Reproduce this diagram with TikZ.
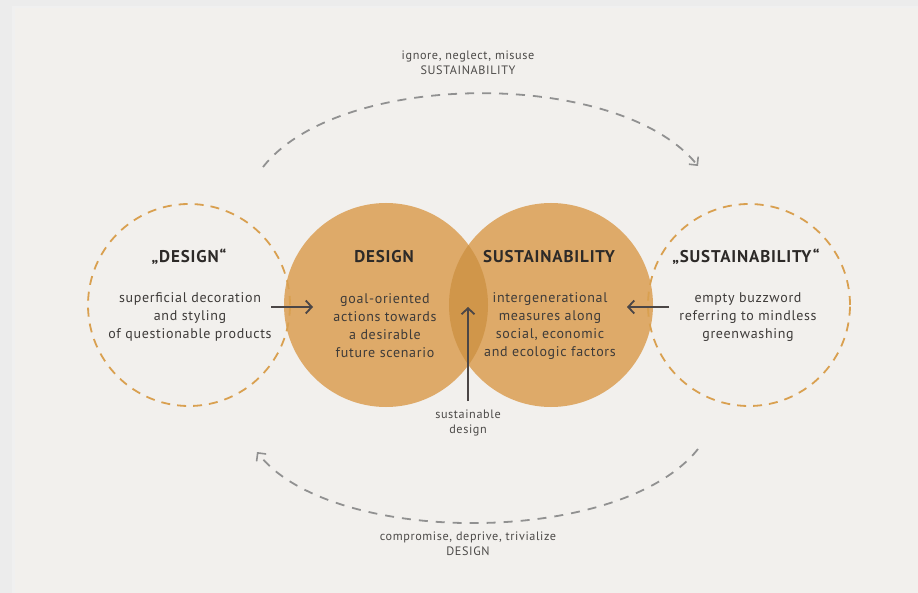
\documentclass[tikz,border=0pt]{standalone}
\usepackage{fontspec}
\setmainfont{PT Sans}
\newfontfamily\spaced[LetterSpace=5]{PT Sans}
\usetikzlibrary{arrows.meta}
\definecolor{outerbg}{RGB}{236,236,236}
\definecolor{paper}{RGB}{242,240,237}
\definecolor{circfill}{RGB}{222,170,105}
\definecolor{overlapfill}{RGB}{208,150,74}
\definecolor{dashorange}{RGB}{217,160,80}
\definecolor{arcgray}{RGB}{145,145,145}
\definecolor{darkline}{RGB}{75,70,70}
\definecolor{txt}{RGB}{45,42,40}
\tikzset{
  bigcirc/.style={circle, fill=circfill, minimum size=204pt, inner sep=0pt},
  falsecirc/.style={circle, draw=dashorange, line width=1.8pt, dash pattern=on 9pt off 7pt, minimum size=202pt, inner sep=0pt},
  titletext/.style={text=txt, font=\spaced\fontsize{17}{19}\selectfont\bfseries},
  bodytext/.style={text=txt!92, align=center, font=\spaced\fontsize{14}{18}\selectfont},
  smalltext/.style={text=txt!85, align=center, font=\spaced\fontsize{12.2}{14.5}\selectfont},
  grayarc/.style={draw=arcgray, line width=1.8pt, dash pattern=on 9pt off 8pt, -{Straight Barb[length=6pt,width=12pt,line width=1.6pt]}},
  darkarrow/.style={draw=darkline, line width=1.8pt, -{Straight Barb[length=6pt,width=13pt,line width=1.8pt]}}
}
\begin{document}
\begin{tikzpicture}[x=1pt,y=-1pt]
\useasboundingbox (0,0) rectangle (918,593);
\fill[outerbg] (0,0) rectangle (918,593);
\fill[black!6] (12,6) rectangle (918,593);
\fill[paper] (15,8) rectangle (918,593);

% main circles
\node[bigcirc] (design) at (386,305) {};
\node[bigcirc] (sust) at (551,305) {};
\begin{scope}
  \clip (386,305) circle (102pt);
  \fill[overlapfill] (551,305) circle (102pt);
\end{scope}

% dashed circles
\node[falsecirc] (fdesign) at (189,305) {};
\node[falsecirc] (fsust) at (749,305) {};

% titles
\node[titletext] (tfd) at (189,257) {„DESIGN“};
\node[titletext] (td) at (384,257) {DESIGN};
\node[titletext] (ts) at (549,257) {SUSTAINABILITY};
\node[titletext] (tfs) at (746,257) {„SUSTAINABILITY“};

% bodies
\node[bodytext] (bfd) at (190,317) {superficial decoration\\and styling\\of questionable products};
\node[bodytext] (bd) at (385,326) {goal-oriented\\actions towards\\a desirable\\future scenario};
\node[bodytext] (bs) at (550,326) {intergenerational\\measures along\\social, economic\\and ecologic factors};
\node[bodytext] (bfs) at (748,317) {empty buzzword\\referring to mindless\\greenwashing};

% small labels
\node[smalltext] (toplabel) at (468,63) {ignore, neglect, misuse\\SUSTAINABILITY};
\node[smalltext] (botlabel) at (468,544) {compromise, deprive, trivialize\\DESIGN};
\node[smalltext] (sdlabel) at (468,423) {sustainable\\design};

% arrow coordinates
\coordinate (la1) at (271,307);
\coordinate (la2) at (313,307);
\coordinate (ra1) at (669,307);
\coordinate (ra2) at (627,307);
\coordinate (va1) at (468,401);
\coordinate (va2) at (468,307);
\coordinate (ts1) at (263,167);
\coordinate (ts2) at (698,166);
\coordinate (bs1) at (698,449);
\coordinate (bs2) at (257,452);

\draw[darkarrow] (la1) -- (la2);
\draw[darkarrow] (ra1) -- (ra2);
\draw[darkarrow] (va1) -- (va2);

\draw[grayarc] (ts1) .. controls (340,69) and (620,69) .. (ts2);
\draw[grayarc] (bs1) .. controls (620,547) and (330,547) .. (bs2);
\end{tikzpicture}
\end{document}
